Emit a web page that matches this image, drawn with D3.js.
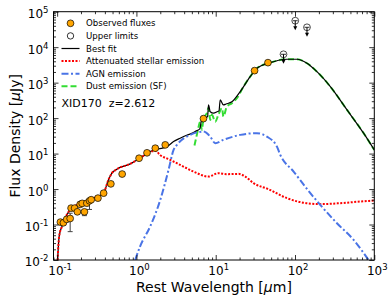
<!DOCTYPE html>
<html>
<head>
<meta charset="utf-8">
<script src="https://cdn.jsdelivr.net/npm/d3@7"></script>
<style>
  body { margin: 0; background: #fff; }
  svg { display: block; font-family: "DejaVu Sans", sans-serif; }
</style>
</head>
<body>
<div id="chart"></div>
<script>
// observed photometry (rest wavelength in um, flux in uJy)
const obsWave = [0.110, 0.120, 0.132, 0.146, 0.150, 0.166, 0.180, 0.195, 0.207, 0.221, 0.237, 0.256, 0.269, 0.327, 0.386, 0.476, 0.661, 1.08, 1.36, 1.73, 2.31, 7.01, 30.9, 45.6];
const obsFlux = [0.117, 0.112, 0.140, 0.148, 0.29, 0.29, 0.228, 0.37, 0.395, 0.228, 0.40, 0.466, 0.50, 0.555, 0.767, 1.40, 2.65, 7.4, 10.5, 14.2, 17.6, 96.8, 2180, 3660];
const obsErrLo = [0, 0, 0, 0.085, 0, 0, 0, 0, 0, 0.05, 0, 0.2, 0, 0, 0, 0, 0, 0, 0, 0, 0, 0, 0, 0];
const obsErrHi = [0, 0, 0, 0.06, 0, 0, 0, 0, 0, 0.03, 0, 0, 0, 0, 0, 0, 0, 0, 0, 0, 0, 0, 0, 0];

// upper limits
const ulWave = [71.6, 100.7, 141.6];
const ulFlux = [6300, 55700, 36300];

// model components
const fitWave = [0.1014, 0.106, 0.115, 0.126, 0.146, 0.161, 0.215, 0.287, 0.384, 0.444, 0.49, 0.566, 0.834, 1.11, 1.49, 1.9, 2.42, 2.94, 3.56, 4.3, 5.25, 5.5, 6.3, 6.7, 7.0, 7.36, 7.9, 8.11, 8.53, 9.4, 10.4, 11.0, 11.4, 12.5, 13.5, 16, 20.4, 27.2, 33.1, 48.7, 79, 106, 141.6, 189, 279, 453, 733, 1000];
const fitFlux = [0.01, 0.046, 0.088, 0.151, 0.26, 0.32, 0.40, 0.555, 0.77, 1.82, 2.8, 3.63, 5.13, 7.4, 11.4, 13.5, 15.7, 21.8, 27.2, 33, 39, 42, 50, 95, 79, 100, 110, 236, 151, 138, 151, 160, 326, 236, 250, 288, 562, 1475, 2550, 3660, 4560, 4560, 3520, 2040, 771, 170, 37.6, 12.7];

const stellarWave = [0.1014, 0.106, 0.115, 0.126, 0.146, 0.161, 0.215, 0.287, 0.384, 0.444, 0.49, 0.566, 0.834, 1.11, 1.49, 1.75, 2.0, 2.67, 3.56, 5.25, 8.11, 10.8, 13.8, 19.4, 23.6, 30, 46.4, 79, 116, 208, 372, 666, 1000];
const stellarFlux = [0.01, 0.046, 0.088, 0.151, 0.26, 0.32, 0.40, 0.555, 0.77, 1.82, 2.8, 3.63, 5.13, 7.4, 11.4, 11.8, 9.0, 6.65, 4.8, 3.11, 2.25, 2.8, 2.63, 2.68, 2.25, 1.47, 0.99, 0.555, 0.43, 0.376, 0.40, 0.445, 0.475];

const agnWave = [0.964, 1.11, 1.49, 2.0, 2.54, 2.94, 3.24, 4.77, 7.0, 8.53, 9.87, 12.5, 20.4, 33.1, 44.3, 59.2, 65.2, 96, 156, 208, 338, 548, 847];
const agnFlux = [0.01, 0.024, 0.088, 0.497, 3.47, 12.7, 17.6, 33.7, 41.7, 30, 19.6, 24.3, 33.7, 37.6, 30, 15.7, 9.2, 3.11, 0.767, 0.359, 0.109, 0.037, 0.01];

const dustWave = [5.4, 5.8, 6.07, 6.37, 6.7, 7.0, 7.74, 8.1, 8.53, 8.95, 9.87, 10.8, 12.0, 12.5, 13.8, 16, 18.5, 22.4, 27.2, 33.1, 48.7, 79, 106, 141.6, 189, 279, 453, 733, 1000];
const dustFlux = [17, 35, 56, 79, 47, 100, 138, 192, 89, 124, 79, 124, 192, 110, 210, 263, 363, 771, 1475, 2550, 3660, 4560, 4560, 3520, 2040, 771, 170, 37.6, 12.7];

const xMajor = [0.1, 1, 10, 100, 1000];
const yMajor = [1e-2, 1e-1, 1, 1e1, 1e2, 1e3, 1e4, 1e5];

const width = 392, height = 301;
const margin = {top: 11.7, right: 17.7, bottom: 41, left: 53.5};
const iw = width - margin.left - margin.right;
const ih = height - margin.top - margin.bottom;

const x = d3.scaleLog().domain([0.09, 1000]).range([0, iw]);
const y = d3.scaleLog().domain([0.01, 1e5]).range([ih, 0]);

const svg = d3.select("#chart").append("svg")
    .attr("width", width)
    .attr("height", height);

const g = svg.append("g").attr("transform", `translate(${margin.left},${margin.top})`);

svg.append("defs").append("clipPath").attr("id", "clip")
  .append("rect").attr("width", iw).attr("height", ih);

// minor tick values inside the domain
function minors(domain) {
  const out = [];
  for (let e = -3; e <= 5; e++) {
    for (let k = 2; k <= 9; k++) {
      const v = k * Math.pow(10, e);
      if (v >= domain[0] * 0.999 && v <= domain[1] * 1.001) out.push(v);
    }
  }
  return out;
}

const plot = g.append("g").attr("clip-path", "url(#clip)");
const line = (xs, ys) => d3.line()
    .x(i => x(xs[i]))
    .y(i => y(ys[i]))
    .curve(d3.curveMonotoneX)(d3.range(xs.length));

plot.append("path").attr("d", line(dustWave, dustFlux))
    .attr("fill", "none").attr("stroke", "#33dd33").attr("stroke-width", 2)
    .attr("stroke-dasharray", "6,3");
plot.append("path").attr("d", line(fitWave, fitFlux))
    .attr("fill", "none").attr("stroke", "#000").attr("stroke-width", 1.2);
plot.append("path").attr("d", line(stellarWave, stellarFlux))
    .attr("fill", "none").attr("stroke", "#ff0000").attr("stroke-width", 2)
    .attr("stroke-dasharray", "2,1.5");
plot.append("path").attr("d", line(agnWave, agnFlux))
    .attr("fill", "none").attr("stroke", "#4a74e6").attr("stroke-width", 2)
    .attr("stroke-dasharray", "7,2.5,2,2.5");

// error bars
const eb = plot.append("g").attr("stroke", "#444").attr("stroke-width", 1);
obsWave.forEach((w, i) => {
  if (!obsErrLo[i] && !obsErrHi[i]) return;
  const cx = x(w), y0 = y(obsFlux[i] - obsErrLo[i]), y1 = y(obsFlux[i] + obsErrHi[i]);
  eb.append("line").attr("x1", cx).attr("x2", cx).attr("y1", y0).attr("y2", y1);
  eb.append("line").attr("x1", cx - 2.5).attr("x2", cx + 2.5).attr("y1", y0).attr("y2", y0);
  eb.append("line").attr("x1", cx - 2.5).attr("x2", cx + 2.5).attr("y1", y1).attr("y2", y1);
});

plot.append("g").selectAll("circle")
  .data(d3.range(obsWave.length))
  .join("circle")
    .attr("cx", i => x(obsWave[i]))
    .attr("cy", i => y(obsFlux[i]))
    .attr("r", 3.4)
    .attr("fill", "#ffa500")
    .attr("stroke", "#000")
    .attr("stroke-width", 0.7);

// upper limits: open circle + down arrow
const ul = g.append("g").selectAll("g")
  .data(d3.range(ulWave.length))
  .join("g")
    .attr("transform", i => `translate(${x(ulWave[i])},${y(ulFlux[i])})`);
ul.append("line").attr("x1", 0).attr("x2", 0).attr("y1", 0).attr("y2", 7)
    .attr("stroke", "#000").attr("stroke-width", 1);
ul.append("path").attr("d", "M-2,5.5L2,5.5L0,9.5Z").attr("fill", "#000");
ul.append("circle").attr("r", 3.4).attr("fill", "none")
    .attr("stroke", "#000").attr("stroke-width", 0.7);
ul.append("line").attr("x1", -2.5).attr("x2", 2.5).attr("y1", 0).attr("y2", 0)
    .attr("stroke", "#000").attr("stroke-width", 0.8);

// axes: ticks on all four sides, pointing inward
const axes = [
  [d3.axisBottom(x), `translate(0,${ih})`, "x", -1],
  [d3.axisTop(x), null, "x", -1],
  [d3.axisLeft(y), null, "y", -1],
  [d3.axisRight(y), `translate(${iw},0)`, "y", -1]
];
axes.forEach(([ax, tr, dim]) => {
  const sc = dim === "x" ? x : y;
  const gMaj = g.append("g").attr("transform", tr)
    .call(ax.scale(sc).tickValues(dim === "x" ? xMajor : yMajor).tickSizeInner(-5).tickSizeOuter(0).tickFormat(""));
  gMaj.select(".domain").remove();
  const gMin = g.append("g").attr("transform", tr)
    .call(ax.scale(sc).tickValues(minors(sc.domain())).tickSizeInner(-2.5).tickSizeOuter(0).tickFormat(""));
  gMin.select(".domain").remove();
});
g.selectAll(".tick line").attr("stroke", "#000").attr("stroke-width", 0.8);

g.append("rect").attr("width", iw).attr("height", ih)
    .attr("fill", "none").attr("stroke", "#000").attr("stroke-width", 1);

// tick labels as 10^n
const expo = v => String(Math.round(Math.log10(v))).replace("-", "-");
const xl = g.append("g").attr("font-size", 12).attr("text-anchor", "middle");
xMajor.forEach(v => {
  const t = xl.append("text").attr("x", x(v) + 3).attr("y", ih + 15.5).text("10");
  t.append("tspan").attr("dy", -5).attr("font-size", 8.5).text(expo(v));
});
const yl = g.append("g").attr("font-size", 12).attr("text-anchor", "end");
yMajor.forEach(v => {
  const t = yl.append("text").attr("x", -5).attr("y", y(v) + 6.5).text("10");
  t.append("tspan").attr("dy", -5).attr("font-size", 8.5).text(expo(v));
});

// axis titles
svg.append("text")
    .attr("x", margin.left + iw / 2).attr("y", 292)
    .attr("text-anchor", "middle").attr("font-size", 14)
    .html('Rest Wavelength [<tspan font-style="italic">μ</tspan>m]');
svg.append("text")
    .attr("transform", `translate(19.5,${margin.top + ih / 2}) rotate(-90)`)
    .attr("text-anchor", "middle").attr("font-size", 14)
    .html('Flux Density [<tspan font-style="italic">μ</tspan>Jy]');

// legend
const legend = svg.append("g").attr("font-size", 8.6);
const rows = [
  {label: "Observed fluxes", kind: "dot"},
  {label: "Upper limits", kind: "open"},
  {label: "Best fit", kind: "line", color: "#000", w: 1.2, dash: null},
  {label: "Attenuated stellar emission", kind: "line", color: "#ff0000", w: 2, dash: "2,1.5"},
  {label: "AGN emission", kind: "line", color: "#4a74e6", w: 2, dash: "7,2.5,2,2.5"},
  {label: "Dust emission (SF)", kind: "line", color: "#33dd33", w: 2, dash: "6,3"}
];
rows.forEach((r, i) => {
  const ry = 23.3 + i * 12.6;
  if (r.kind === "dot") {
    legend.append("circle").attr("cx", 70.5).attr("cy", ry).attr("r", 3.4)
      .attr("fill", "#ffa500").attr("stroke", "#000").attr("stroke-width", 0.7);
  } else if (r.kind === "open") {
    legend.append("circle").attr("cx", 70.5).attr("cy", ry).attr("r", 3.2)
      .attr("fill", "none").attr("stroke", "#000").attr("stroke-width", 0.8);
  } else {
    legend.append("line").attr("x1", 61.5).attr("x2", 79.5).attr("y1", ry).attr("y2", ry)
      .attr("stroke", r.color).attr("stroke-width", r.w).attr("stroke-dasharray", r.dash);
  }
  legend.append("text").attr("x", 86).attr("y", ry).attr("dy", "0.35em").text(r.label);
});

svg.append("text").attr("x", 61.5).attr("y", 107.3).attr("font-size", 11)
    .attr("xml:space", "preserve").text("XID170  z=2.612");
</script>
</body>
</html>
